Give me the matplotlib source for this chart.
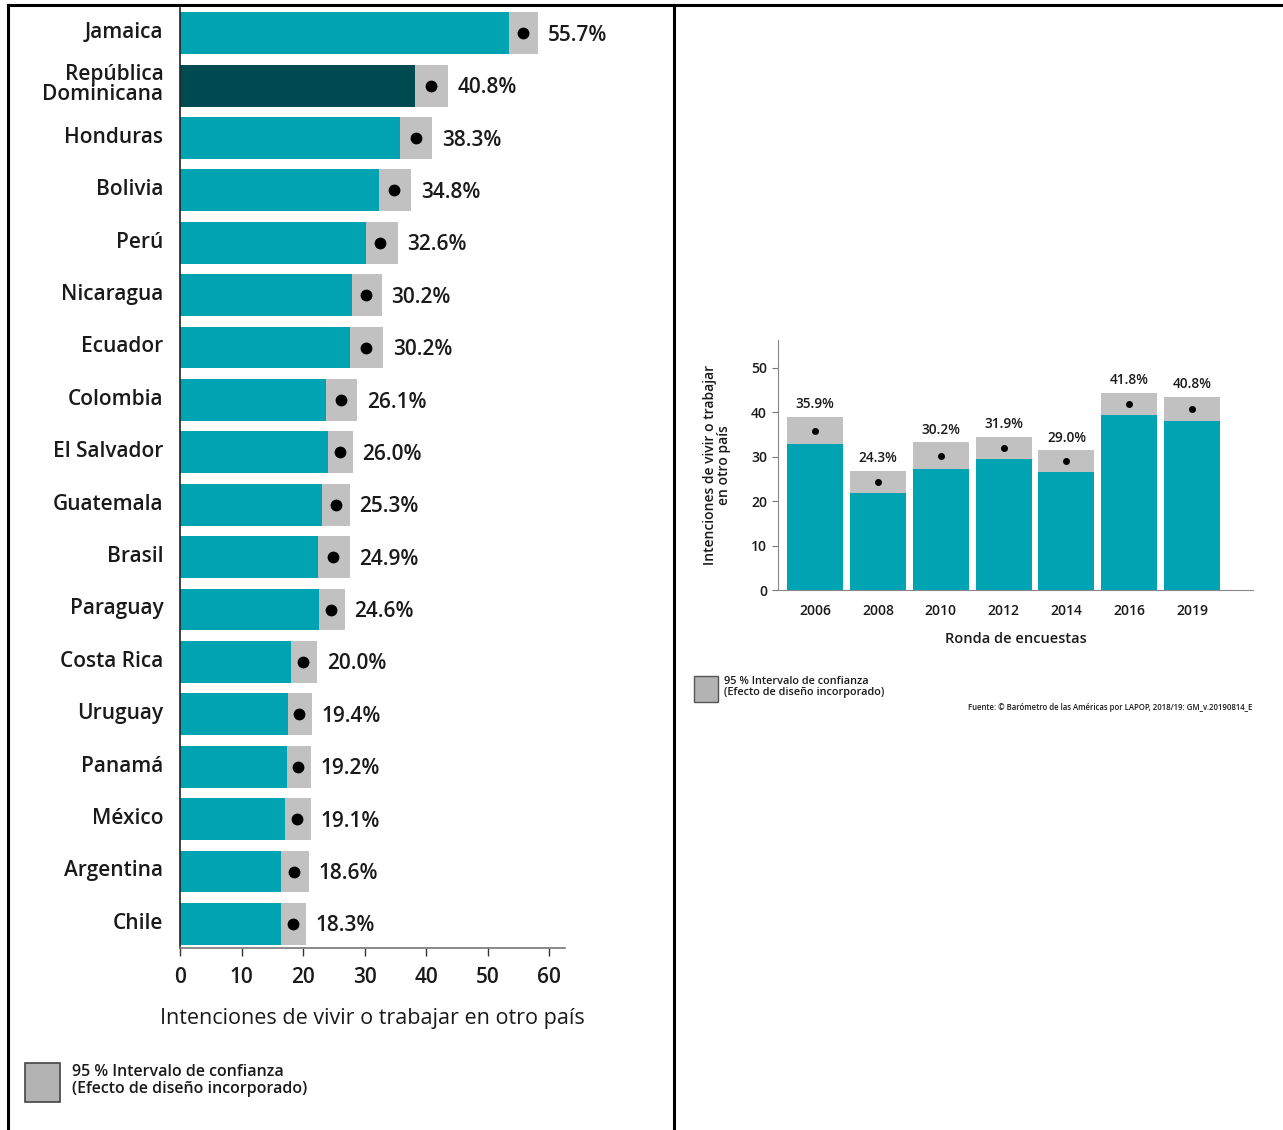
import matplotlib
matplotlib.use("Agg")
import matplotlib.pyplot as plt
from matplotlib.lines import Line2D
from matplotlib.patches import Rectangle

plt.rcParams['font.family'] = ['Open Sans', 'DejaVu Sans']
plt.rcParams['font.weight'] = 'semibold'

# ---------------- data ----------------
countries = ["Jamaica", "República\nDominicana", "Honduras", "Bolivia", "Perú", "Nicaragua",
             "Ecuador", "Colombia", "El Salvador", "Guatemala", "Brasil", "Paraguay",
             "Costa Rica", "Uruguay", "Panamá", "México", "Argentina", "Chile"]
country_values = [55.7, 40.8, 38.3, 34.8, 32.6, 30.2, 30.2, 26.1, 26.0, 25.3, 24.9, 24.6,
                  20.0, 19.4, 19.2, 19.1, 18.6, 18.3]
country_ci_low = [53.5, 38.2, 35.8, 32.4, 30.2, 28.0, 27.6, 23.7, 24.1, 23.1, 22.4, 22.6,
                  18.0, 17.6, 17.4, 17.1, 16.4, 16.4]
country_ci_high = [58.2, 43.6, 41.0, 37.6, 35.4, 32.8, 33.0, 28.8, 28.1, 27.6, 27.6, 26.8,
                   22.3, 21.5, 21.3, 21.3, 21.0, 20.5]
highlight = "República\nDominicana"
x_ticks_left = [0, 10, 20, 30, 40, 50, 60]

years = ["2006", "2008", "2010", "2012", "2014", "2016", "2019"]
year_values = [35.9, 24.3, 30.2, 31.9, 29.0, 41.8, 40.8]
year_ci_low = [32.9, 21.8, 27.3, 29.5, 26.6, 39.4, 38.1]
year_ci_high = [39.0, 26.8, 33.3, 34.5, 31.5, 44.4, 43.5]
y_ticks_right = [0, 10, 20, 30, 40, 50]

TEAL = "#00A3B2"
DARK = "#004B52"
GRAY = "#C1C1C1"
TXT = "#1a1a1a"

W, H = 1283, 1130
fig = plt.figure(figsize=(W / 100, H / 100), dpi=100)

def fx(px):
    return px / W

def fy(py):
    return 1 - py / H

# ---------------- left panel ----------------
axL = fig.add_axes([fx(180), fy(948), fx(565) - fx(180), fy(8) - fy(948)])
n = len(countries)
pos = list(range(n))
for i in pos:
    lo, hi, v = country_ci_low[i], country_ci_high[i], country_values[i]
    col = DARK if countries[i] == highlight else TEAL
    axL.barh(i, hi, height=0.8, color=GRAY, zorder=1)
    axL.barh(i, lo, height=0.8, color=col, zorder=2)
    axL.plot(v, i, 'o', color='black', markersize=7.5, zorder=3)
    axL.annotate(f"{v:.1f}%", xy=(hi, i), xytext=(7, -1.5), textcoords='offset points',
                 ha='left', va='center', fontsize=15, color=TXT)
    # category label (slightly above bar centre as in the original)
    axL.annotate(countries[i], xy=(0, i), xycoords=('axes fraction', 'data'),
                 xytext=(-12, 0.5), textcoords='offset points', ha='right', va='center',
                 fontsize=15, color=TXT, linespacing=0.95, annotation_clip=False)
axL.set_xlim(0, 62.6)
axL.set_ylim(n - 1 + 0.46, -0.48)
axL.set_yticks([])
axL.set_xticks(x_ticks_left)
axL.tick_params(axis='x', length=6, width=1, color='#333333', labelsize=15,
                labelcolor=TXT, pad=8, direction='out')
axL.spines['top'].set_visible(False)
axL.spines['right'].set_visible(False)
axL.spines['left'].set_color('#222222')
axL.spines['left'].set_linewidth(1.2)
axL.spines['bottom'].set_color('#777777')
axL.spines['bottom'].set_linewidth(1.2)
axL.set_xlabel("Intenciones de vivir o trabajar en otro país", fontsize=15.5,
               color=TXT, labelpad=14, fontweight='medium')

# left legend
fig.patches.append(Rectangle((fx(25), fy(1102)), fx(60) - fx(25), fy(1063) - fy(1102),
                             transform=fig.transFigure, facecolor='#B3B3B3',
                             edgecolor='#444444', linewidth=1.2))
fig.text(fx(72), fy(1072), "95 % Intervalo de confianza", fontsize=11.5, va='center',
         color=TXT)
fig.text(fx(72), fy(1089), "(Efecto de diseño incorporado)", fontsize=11.5, va='center',
         color=TXT)

# ---------------- right panel ----------------
axR = fig.add_axes([fx(778), fy(590), fx(1253) - fx(778), fy(340) - fy(590)])
m = len(years)
xp = list(range(m))
for j in xp:
    axR.bar(j, year_ci_high[j], width=0.89, color=GRAY, zorder=1)
    axR.bar(j, year_ci_low[j], width=0.89, color=TEAL, zorder=2)
    axR.plot(j, year_values[j], 'o', color='black', markersize=4, zorder=3)
    axR.annotate(f"{year_values[j]:.1f}%", xy=(j, year_ci_high[j]), xytext=(0, 4),
                 textcoords='offset points', ha='center', va='bottom', fontsize=9.8,
                 color=TXT)
axR.set_xlim(-0.59, m - 1 + 0.97)
axR.set_ylim(0, 56.3)
axR.set_xticks(xp)
axR.set_xticklabels(years, fontsize=10, color=TXT)
axR.set_yticks(y_ticks_right)
axR.tick_params(axis='y', length=4, width=0.8, color='#777777', labelsize=10,
                labelcolor=TXT, pad=4)
axR.tick_params(axis='x', length=0, pad=10)
axR.spines['top'].set_visible(False)
axR.spines['right'].set_visible(False)
axR.spines['left'].set_color('#888888')
axR.spines['bottom'].set_color('#888888')
axR.set_xlabel("Ronda de encuestas", fontsize=10.5, color=TXT, labelpad=10,
               fontweight='semibold')
axR.set_ylabel("Intenciones de vivir o trabajar\nen otro país", fontsize=10,
               color=TXT, labelpad=14, linespacing=1.0, fontweight='semibold')

fig.patches.append(Rectangle((fx(694), fy(702)), fx(718) - fx(694), fy(676) - fy(702),
                             transform=fig.transFigure, facecolor='#B3B3B3',
                             edgecolor='#555555', linewidth=1.0))
fig.text(fx(724), fy(682), "95 % Intervalo de confianza", fontsize=7.8, va='center',
         color=TXT)
fig.text(fx(724), fy(693), "(Efecto de diseño incorporado)", fontsize=7.8, va='center',
         color=TXT)
fig.text(fx(1252), fy(707), "Fuente: © Barómetro de las Américas por LAPOP, 2018/19: GM_v.20190814_E",
         fontsize=5.6, ha='right', va='center', color=TXT)

# ---------------- borders ----------------
fig.add_artist(Line2D([fx(8), 1], [fy(5), fy(5)], transform=fig.transFigure,
                      color='black', linewidth=2.2))
fig.add_artist(Line2D([fx(8), fx(8)], [0, fy(5)], transform=fig.transFigure,
                      color='black', linewidth=2.2))
fig.add_artist(Line2D([fx(674), fx(674)], [0, fy(5)], transform=fig.transFigure,
                      color='black', linewidth=2.2))

fig.savefig("out.png", dpi=100)
